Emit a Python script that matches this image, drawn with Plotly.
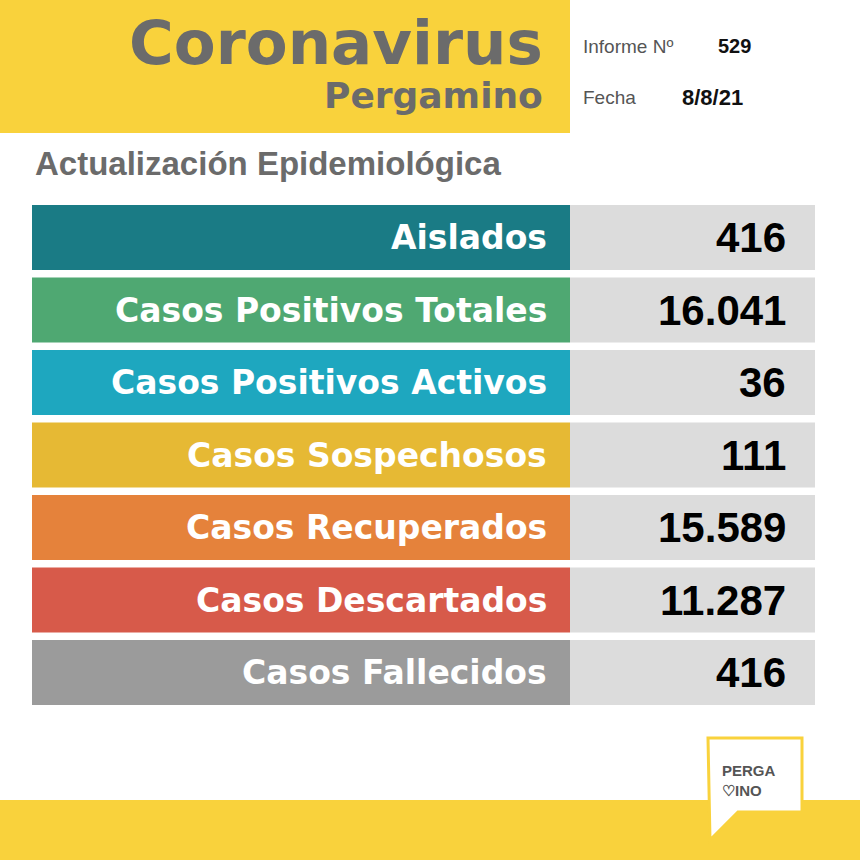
import plotly.graph_objects as go

categorias = ["Aislados", "Casos Positivos Totales", "Casos Positivos Activos",
              "Casos Sospechosos", "Casos Recuperados", "Casos Descartados", "Casos Fallecidos"]
valores = ["416", "16.041", "36", "111", "15.589", "11.287", "416"]
colores = ["#1a7b85", "#4fa872", "#1ea7bf", "#e6b934", "#e5823b", "#d75a4a", "#9b9b9b"]
informe = "529"
fecha = "8/8/21"

fig = go.Figure()
shapes = []
ann = []

# cabecera
shapes.append(dict(type="rect", x0=0, x1=570, y0=0, y1=133, fillcolor="#f9d23c", line_width=0, layer="below"))
ann.append(dict(x=545, y=42, text="Coronavirus", xanchor="right", font=dict(size=61, color="#6b6b6b", family="DejaVu Sans", weight="bold")))
ann.append(dict(x=545, y=95, text="Pergamino", xanchor="right", font=dict(size=36, color="#6b6b6b", family="DejaVu Sans", weight="bold")))
ann.append(dict(x=581, y=46, text="Informe Nº", xanchor="left", font=dict(size=19, color="#555555", family="Liberation Sans")))
ann.append(dict(x=716, y=46, text=informe, xanchor="left", font=dict(size=20, color="#111111", family="Liberation Sans", weight="bold")))
ann.append(dict(x=581, y=97, text="Fecha", xanchor="left", font=dict(size=19, color="#555555", family="Liberation Sans")))
ann.append(dict(x=680, y=97, text=fecha, xanchor="left", font=dict(size=22, color="#111111", family="Liberation Sans", weight="bold")))
ann.append(dict(x=33, y=163, text="Actualización Epidemiológica", xanchor="left", font=dict(size=33, color="#6b6b6b", family="Liberation Sans", weight="bold")))

# filas
for i, (cat, val, col) in enumerate(zip(categorias, valores, colores)):
    y0 = 205 + i * 72.5
    y1 = y0 + 65
    shapes.append(dict(type="rect", x0=32, x1=570, y0=y0, y1=y1, fillcolor=col, line_width=0, layer="below"))
    shapes.append(dict(type="rect", x0=570, x1=815, y0=y0, y1=y1, fillcolor="#dcdcdc", line_width=0, layer="below"))
    ann.append(dict(x=549, y=(y0 + y1) / 2, text=cat, xanchor="right", font=dict(size=33, color="white", family="DejaVu Sans", weight="bold")))
    ann.append(dict(x=788, y=(y0 + y1) / 2, text=val, xanchor="right", font=dict(size=42, color="black", family="Liberation Sans", weight="bold")))

# pie
shapes.append(dict(type="rect", x0=0, x1=860, y0=800, y1=860, fillcolor="#f9d23c", line_width=0, layer="below"))
shapes.append(dict(type="path", path="M 708,738 L 802,738 L 802,812 L 738,812 L 710,840 Z", fillcolor="white", line=dict(color="#f9d23c", width=3), layer="above"))
ann.append(dict(x=720, y=770, text="PERGA", xanchor="left", font=dict(size=15, color="#555555", family="Liberation Sans", weight="bold")))
ann.append(dict(x=720, y=790, text="♡INO", xanchor="left", font=dict(size=15, color="#555555", family="Liberation Sans", weight="bold")))

for a in ann:
    a.update(xref="x", yref="y", showarrow=False, yanchor="middle")

fig.update_layout(
    width=860, height=860, margin=dict(l=0, r=0, t=0, b=0),
    paper_bgcolor="white", plot_bgcolor="white",
    shapes=shapes, annotations=ann, showlegend=False,
    xaxis=dict(range=[0, 860], visible=False, fixedrange=True),
    yaxis=dict(range=[860, 0], visible=False, fixedrange=True),
)
fig.write_html("out.html", config={"displayModeBar": False},
               post_script="document.body.style.margin='0';")
